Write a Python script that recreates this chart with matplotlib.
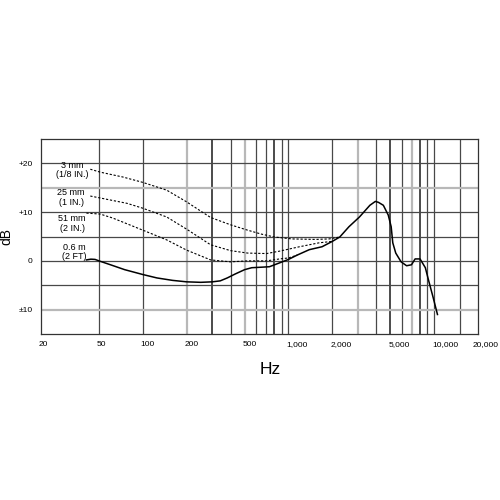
import matplotlib
matplotlib.use("Agg")
import matplotlib.pyplot as plt
from matplotlib.transforms import ScaledTranslation

plt.rcParams['font.family'] = ['Liberation Sans', 'DejaVu Sans']

# 0.6 m (2 FT) response - solid
f_06m = [41, 44, 47, 50, 60, 75, 100, 125, 160, 200, 250, 300, 340, 380, 430, 500,
         560, 650, 740, 870, 1000, 1150, 1390, 1700, 2000, 2250, 2600, 3070, 3620,
         3950, 4150, 4480, 4840, 5070, 5200, 5450, 5930, 6470, 6990, 7400, 8000,
         8700, 9140, 9800, 10540]
db_06m = [0.2, 0.35, 0.3, 0.0, -0.8, -1.8, -2.8, -3.5, -4.0, -4.3, -4.4, -4.3, -4.1,
          -3.5, -2.7, -1.8, -1.4, -1.3, -1.2, -0.4, 0.3, 1.2, 2.3, 2.9, 4.0, 4.9, 7.0,
          9.0, 11.4, 12.2, 12.0, 11.4, 9.4, 7.0, 3.7, 1.6, -0.2, -1.0, -0.8, 0.4, 0.4,
          -1.4, -3.9, -7.3, -11.0]

# 3 mm (1/8 IN.)
f_3mm = [43.6, 51, 73, 100, 146, 200, 250, 292, 400, 524, 650, 800, 1060, 1540, 1900, 2250]
db_3mm = [18.8, 18.2, 17.2, 16.1, 14.5, 12.1, 10.2, 8.9, 7.4, 6.3, 5.5, 4.9, 4.5, 4.4, 4.5, 4.9]

# 25 mm (1 IN.)
f_25mm = [43.6, 51, 78, 100, 146, 200, 292, 400, 524, 707, 870, 1190, 1620, 2000]
db_25mm = [13.3, 12.9, 11.8, 10.8, 9.0, 6.5, 3.3, 2.1, 1.6, 1.5, 2.0, 2.9, 3.7, 4.0]

# 51 mm (2 IN.)
f_51mm = [41, 51, 62, 100, 146, 200, 292, 400, 524, 707, 870, 1000, 1150]
db_51mm = [9.8, 9.6, 8.8, 6.3, 4.3, 2.2, 0.2, -0.2, 0.0, 0.0, 0.4, 0.6, 1.2]

x_ticks = [20, 50, 100, 200, 500, 1000, 2000, 5000, 10000, 20000]
x_labels = ['20', '50', '100', '200', '500', '1,000', '2,000', '5,000', '10,000', '20,000']
y_ticks = [20, 10, 0, -10]
y_labels = ['+20', '+10', '0', '\u00b110']

vgrid_black = [300, 800, 5000, 8000]
vgrid_dark = [50, 100, 400, 600, 700, 900, 1000, 2000, 4000, 6000, 9000, 10000, 15000]
vgrid_gray = [200, 500, 3000, 7000]
hgrid_dark = [20, 10, 5, 0, -5]
hgrid_gray = [15, -10]

labels = ['3 mm\n(1/8 IN.)', '25 mm\n(1 IN.)', '51 mm\n(2 IN.)', '0.6 m\n(2 FT)']
label_pos = [(0.071, 0.841), (0.069, 0.700), (0.071, 0.567), (0.076, 0.421)]

fig = plt.figure(figsize=(5, 5), dpi=100)
ax = fig.add_axes([0.082, 0.332, 0.874, 0.39])
ax.set_xscale('log')
ax.set_xlim(20, 20000)
ax.set_ylim(-15, 25)

for v in vgrid_gray:
    ax.axvline(v, color='#b8b8b8', lw=1.6, zorder=1)
for v in vgrid_dark:
    ax.axvline(v, color='#484848', lw=0.9, zorder=1)
for v in vgrid_black:
    ax.axvline(v, color='#1a1a1a', lw=1.1, zorder=1)
for h in hgrid_gray:
    ax.axhline(h, color='#b8b8b8', lw=1.6, zorder=1)
for h in hgrid_dark:
    ax.axhline(h, color='#484848', lw=0.9, zorder=1)

dash = (0, (2.0, 1.6))
ax.plot(f_3mm, db_3mm, color='black', lw=0.8, linestyle=dash, zorder=3)
ax.plot(f_25mm, db_25mm, color='black', lw=0.8, linestyle=dash, zorder=3)
ax.plot(f_51mm, db_51mm, color='black', lw=0.8, linestyle=dash, zorder=3)
ax.plot(f_06m, db_06m, color='black', lw=1.1, zorder=4)

for s in ax.spines.values():
    s.set_color('#333333')
    s.set_linewidth(0.9)

ax.set_xticks(x_ticks)
ax.set_xticklabels(x_labels, ha='left')
ax.xaxis.set_minor_locator(matplotlib.ticker.NullLocator())
ax.set_yticks(y_ticks)
ax.set_yticklabels(y_labels)
ax.tick_params(axis='both', length=0, labelsize=6)
ax.tick_params(axis='x', pad=5)
ax.tick_params(axis='y', pad=6)
xl = ax.get_xticklabels()
shift = ScaledTranslation(-2 / 100, 0, fig.dpi_scale_trans)
for lbl in xl:
    lbl.set_transform(lbl.get_transform() + shift)
last_shift = ScaledTranslation(-3 / 100, 0, fig.dpi_scale_trans)
xl[-1].set_transform(xl[-1].get_transform() + last_shift)

for txt, (px, py) in zip(labels, label_pos):
    ax.text(px, py, txt, transform=ax.transAxes, ha='center', va='center',
            fontsize=6.5, linespacing=1.05, multialignment='center', zorder=5)

fig.text(0.012, 0.527, 'dB', rotation=90, ha='center', va='center', fontsize=10)
fig.text(0.54, 0.26, 'Hz', ha='center', va='center', fontsize=12.5)

fig.savefig('out.png', dpi=100, facecolor='white')
